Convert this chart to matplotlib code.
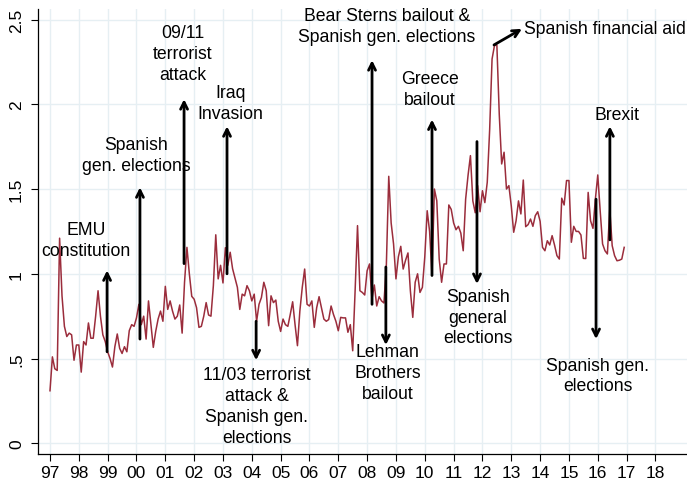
import matplotlib
matplotlib.use("Agg")
import matplotlib.pyplot as plt
import numpy as np

plt.rcParams['font.family'] = ['Liberation Sans', 'DejaVu Sans']

# Monthly series, Jan 1997 - Dec 2016
values = [
    0.31, 0.51, 0.44, 0.43, 1.21, 0.87, 0.69, 0.63, 0.65, 0.64, 0.49, 0.58,
    0.58, 0.42, 0.60, 0.58, 0.71, 0.62, 0.62, 0.75, 0.90, 0.75, 0.64, 0.60,
    0.54, 0.50, 0.45, 0.57, 0.645, 0.56, 0.53, 0.57, 0.54, 0.665, 0.70, 0.69,
    0.74, 0.82, 0.70, 0.75, 0.615, 0.84, 0.70, 0.566, 0.66, 0.733, 0.78, 0.72,
    0.926, 0.79, 0.84, 0.78, 0.733, 0.75, 0.816, 0.65, 0.95, 1.156, 1.0, 0.867,
    0.85, 0.80, 0.684, 0.69, 0.75, 0.83, 0.757, 0.75, 0.93, 1.23, 0.97, 1.05,
    0.946, 1.154, 1.05, 1.127, 1.03, 0.975, 0.92, 0.79, 0.88, 0.87, 0.93, 0.90,
    0.84, 0.88, 0.72, 0.82, 0.86, 0.95, 0.90, 0.694, 0.87, 0.83, 0.845, 0.72,
    0.66, 0.733, 0.70, 0.69, 0.76, 0.835, 0.70, 0.576, 0.78, 0.92, 1.028, 0.82,
    0.81, 0.84, 0.684, 0.80, 0.865, 0.80, 0.733, 0.72, 0.73, 0.81, 0.76, 0.72,
    0.664, 0.743, 0.74, 0.74, 0.655, 0.70, 0.546, 0.90, 1.284, 0.90, 0.89, 0.875,
    1.018, 1.058, 0.85, 0.934, 0.81, 0.865, 0.84, 0.828, 1.05, 1.575, 1.30, 1.176,
    0.97, 1.10, 1.162, 1.028, 1.08, 1.123, 0.90, 0.743, 0.95, 1.0, 0.89, 0.92,
    1.10, 1.372, 1.25, 0.99, 1.50, 1.43, 1.087, 0.95, 1.058, 1.058, 1.406, 1.38,
    1.30, 1.26, 1.28, 1.24, 1.136, 1.44, 1.58, 1.697, 1.43, 1.36, 1.52, 1.366,
    1.49, 1.42, 1.54, 1.85, 2.267, 2.346, 2.35, 1.94, 1.648, 1.717, 1.50, 1.52,
    1.40, 1.245, 1.313, 1.43, 1.353, 1.553, 1.278, 1.29, 1.323, 1.28, 1.343, 1.366,
    1.31, 1.156, 1.136, 1.195, 1.17, 1.225, 1.17, 1.107, 1.087, 1.446, 1.406, 1.55,
    1.55, 1.186, 1.28, 1.25, 1.25, 1.229, 1.091, 1.09, 1.48, 1.313, 1.268, 1.44,
    1.583, 1.372, 1.176, 1.136, 1.117, 1.382, 1.166, 1.107, 1.077, 1.08, 1.087, 1.156,
]
start_year = 1997
dates = start_year + np.arange(len(values)) / 12.0

year_ticks = list(range(1997, 2019))
year_labels = [f"{y % 100:02d}" for y in year_ticks]
y_ticks = [0, 0.5, 1, 1.5, 2, 2.5]
y_labels = ["0", ".5", "1", "1.5", "2", "2.5"]

# Event annotations: (text, text_x, text_y, arrow_x, arrow_base_y, arrow_head_y)
events = [
    ("EMU\nconstitution", 1998.25, 1.20, 1998.98, 0.54, 1.02),
    ("Spanish\ngen. elections", 2000.0, 1.70, 2000.12, 0.615, 1.51),
    ("09/11\nterrorist\nattack", 2001.6, 2.30, 2001.65, 1.06, 2.03),
    ("Iraq\nInvasion", 2003.25, 2.01, 2003.14, 1.00, 1.87),
    ("11/03 terrorist\nattack &\nSpanish gen.\nelections", 2004.18, 0.22, 2004.15, 0.72, 0.49),
    ("Bear Sterns bailout &\nSpanish gen. elections", 2008.69, 2.46, 2008.17, 0.82, 2.26),
    ("Lehman\nBrothers\nbailout", 2008.72, 0.42, 2008.65, 1.04, 0.58),
    ("Greece\nbailout", 2010.18, 2.09, 2010.25, 0.99, 1.91),
    ("Spanish\ngeneral\nelections", 2011.85, 0.745, 2011.81, 1.78, 0.94),
    ("Spanish gen.\nelections", 2016.0, 0.40, 2015.94, 1.44, 0.615),
    ("Brexit", 2016.66, 1.94, 2016.42, 1.20, 1.87),
]

fig = plt.figure(figsize=(6.87, 4.89), dpi=100)
ax = fig.add_axes([38/687, 34/489, 649/687, 445/489])

ax.plot(dates, values, color='#9b2d3c', lw=1.1, zorder=3)

ax.set_xlim(1996.584, 2019.095)
ax.set_ylim(-0.063, 2.562)
ax.set_xticks(year_ticks)
ax.set_xticklabels(year_labels, fontsize=12.5)
ax.set_yticks(y_ticks)
ax.set_yticklabels(y_labels, fontsize=12.5, rotation=90, va='center')
ax.tick_params(axis='both', direction='out', length=5, width=0.8, color='black')
ax.tick_params(axis='x', pad=3)
ax.tick_params(axis='y', pad=5)

ax.grid(True, color='#e6eff3', lw=1.0, zorder=0)
ax.set_axisbelow(True)
for s in ['top', 'right']:
    ax.spines[s].set_visible(False)
for s in ['left', 'bottom']:
    ax.spines[s].set_linewidth(0.9)

fs = 12.7
arrow_style = '->,head_length=0.5,head_width=0.25'
for text, tx, ty, axx, by, hy in events:
    ax.annotate('', xy=(axx, hy), xytext=(axx, by),
                arrowprops=dict(arrowstyle=arrow_style,
                                lw=2.0, color='black', shrinkA=0, shrinkB=0),
                zorder=4)
    ax.text(tx, ty, text, ha='center', va='center', fontsize=fs,
            linespacing=1.3, zorder=5)

# Spanish financial aid (diagonal arrow from the peak)
ax.annotate('', xy=(2013.37, 2.445), xytext=(2012.40, 2.35),
            arrowprops=dict(arrowstyle=arrow_style,
                            lw=2.0, color='black', shrinkA=0, shrinkB=0), zorder=4)
ax.text(2013.45, 2.445, "Spanish financial aid", ha='left', va='center',
        fontsize=fs, zorder=5)

fig.savefig('out.png', dpi=100)
